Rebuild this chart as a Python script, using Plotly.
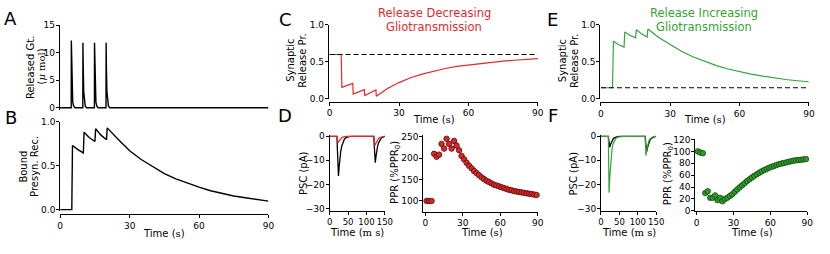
import plotly.graph_objects as go

W, H = 830, 254

# ---------------- data ----------------
# A: released glutamate (uM) vs time (s)
gt_time = [0, 4.95, 5.0, 5.15, 5.35, 5.6, 6.0, 6.6,
           9.95, 10.0, 10.15, 10.35, 10.6, 11.0, 11.6,
           14.95, 15.0, 15.15, 15.35, 15.6, 16.0, 16.6,
           19.95, 20.0, 20.15, 20.35, 20.6, 21.0, 21.6, 90]
gt_val = [0, 0, 12.2, 7.0, 3.0, 1.0, 0.3, 0,
          0, 11.8, 6.8, 2.9, 1.0, 0.3, 0,
          0, 11.8, 6.8, 2.9, 1.0, 0.3, 0,
          0, 11.8, 6.8, 2.9, 1.0, 0.3, 0, 0]

# B: bound presynaptic receptors
bound_time = [0, 5.0, 5.3, 7.5, 10.0, 10.3, 12.5, 15.0, 15.3, 17.5, 20.0, 20.3,
              25, 30, 35, 40, 45, 50, 55, 60, 65, 70, 75, 80, 85, 90]
bound_val = [0, 0, 0.73, 0.685, 0.645, 0.88, 0.82, 0.775, 0.92, 0.85, 0.795, 0.93,
             0.80, 0.67, 0.57, 0.485, 0.41, 0.35, 0.30, 0.255, 0.215, 0.185, 0.155, 0.135, 0.115, 0.097]

# C: synaptic release probability, release-decreasing gliotransmission
relC_time = [0, 5.0, 5.3, 7.5, 10.0, 10.2, 12.5, 15.0, 15.2, 17.5, 20.0, 20.2,
             25, 30, 35, 40, 45, 50, 55, 60, 65, 70, 75, 80, 85, 90]
relC_val = [0.6, 0.6, 0.155, 0.185, 0.21, 0.065, 0.097, 0.125, 0.045, 0.085, 0.12, 0.035,
            0.14, 0.22, 0.285, 0.335, 0.375, 0.41, 0.44, 0.46, 0.478, 0.495, 0.51, 0.522, 0.533, 0.543]
baseC_time = [0, 90]
baseC_val = [0.6, 0.6]

# E: synaptic release probability, release-increasing gliotransmission
relE_time = [0, 5.0, 5.4, 7.5, 10.0, 10.3, 12.5, 15.0, 15.3, 17.5, 20.0, 20.3,
             25, 30, 35, 40, 45, 50, 55, 60, 65, 70, 75, 80, 85, 90]
relE_val = [0.15, 0.15, 0.78, 0.735, 0.70, 0.905, 0.86, 0.825, 0.935, 0.88, 0.835, 0.945,
            0.83, 0.73, 0.64, 0.566, 0.504, 0.45, 0.404, 0.366, 0.334, 0.306, 0.282, 0.262, 0.245, 0.231]
baseE_time = [0, 90]
baseE_val = [0.15, 0.15]

# D / F: PSC traces (pA) vs time (ms)
psc_time = [0, 20, 21, 22, 23, 24, 26, 28, 30, 33, 36, 40, 45, 52, 60,
            120, 121, 122, 123, 124, 126, 128, 130, 133, 136, 140, 145, 150]
pscD_ctrl = [0, 0, -5, -12, -16, -16.5, -12.5, -9, -6.5, -4, -2.4, -1.2, -0.5, -0.1, 0,
             0, -3.5, -8, -10.7, -11, -8.3, -6, -4.3, -2.7, -1.6, -0.8, -0.3, 0]
pscD_glio = [0, 0, -1.2, -2.2, -2.5, -2.4, -1.9, -1.4, -1.0, -0.6, -0.35, -0.15, -0.05, 0, 0,
             0, -1.6, -3.2, -3.7, -3.6, -2.8, -2.1, -1.5, -0.9, -0.5, -0.25, -0.1, 0]
pscF_ctrl = [0, 0, -1.4, -3.3, -4.4, -4.5, -3.4, -2.5, -1.8, -1.1, -0.65, -0.3, -0.1, 0, 0,
             0, -2.0, -4.7, -6.3, -6.5, -4.9, -3.6, -2.6, -1.6, -0.95, -0.5, -0.2, 0]
pscF_glio = [0, 0, -12, -23.5, -21, -17, -11.5, -7.8, -5.3, -3.1, -1.8, -0.9, -0.35, -0.05, 0,
             0, -4.5, -8, -7.2, -5.9, -4, -2.8, -1.9, -1.1, -0.6, -0.3, -0.1, 0]

# D / F: paired-pulse ratio (% of PPR0) vs time (s)
ppr_time = [1, 3, 5, 7, 9, 11, 13, 15, 17, 19, 21, 23, 25, 27, 29, 31, 33, 35, 37, 39,
            41, 43, 45, 47, 49, 51, 53, 55, 57, 59, 61, 63, 65, 67, 69, 71, 73, 75, 77, 79,
            81, 83, 85, 87, 89]
pprD_val = [100, 100, 100, 210, 203, 208, 233, 222, 245, 233, 222, 240, 229, 218, 205, 197, 189, 182, 176, 170,
            165, 160, 155, 151, 147, 144, 141, 138, 136, 134, 132, 130, 128, 126, 125, 123, 122, 121, 120, 119,
            118, 117, 116, 115, 114]
pprF_val = [100, 98, 97, 30, 33, 22, 22, 26, 18, 22, 16, 20, 22, 25, 28, 32, 36, 39.5, 43, 46.5,
            50, 53, 56, 59, 61.5, 64, 66.5, 68.5, 70.5, 72.5, 74, 75.5, 77, 78.5, 79.5, 80.5, 81.5, 82.5, 83.5, 84.5,
            85, 85.5, 86, 86.5, 87]

# tick labels
time_ticks = [0, 30, 60, 90]
gt_ticks = [0, 5, 10, 15]
prob_ticks = [0.0, 0.5, 1.0]
psc_yticks = [-30, -20, -10, 0]
psc_xticks = [0, 50, 100, 150]
pprD_ticks = [100, 150, 200, 250]
pprF_ticks = [0, 20, 40, 60, 80, 100, 120]

RED = "#e3292b"
GREEN = "#35a335"
FONT = "DejaVu Sans"

# ---------------- layout helpers ----------------
def dom_from(rng, va, pa, vb, pb):
    k = (pb - pa) / (vb - va)
    return pa + (rng[0] - va) * k, pa + (rng[1] - va) * k

def xdom(rng, va, pa, vb, pb):
    p0, p1 = dom_from(rng, va, pa, vb, pb)
    return [min(p0, p1) / W, max(p0, p1) / W]

def ydom(rng, va, pa, vb, pb):
    p0, p1 = dom_from(rng, va, pa, vb, pb)
    a, b = 1 - p0 / H, 1 - p1 / H
    return [min(a, b), max(a, b)]

def ax(**kw):
    d = dict(showline=True, linecolor="black", linewidth=1, ticks="outside", ticklen=3,
             tickwidth=1, tickcolor="black", showgrid=False, zeroline=False, tickangle=0,
             tickfont=dict(family=FONT, size=9, color="black"), fixedrange=True)
    d.update(kw)
    return d

def yax(**kw):
    return ax(ticklabelstandoff=-1, **kw)

fig = go.Figure()

def line(x, y, xa, ya, color, width=1.4, dash=None):
    fig.add_trace(go.Scatter(x=x, y=y, xaxis=xa, yaxis=ya, mode="lines",
                             line=dict(color=color, width=width, dash=dash),
                             hoverinfo="skip", showlegend=False))

def dots(x, y, xa, ya, fill, edge):
    fig.add_trace(go.Scatter(x=x, y=y, xaxis=xa, yaxis=ya, mode="markers",
                             marker=dict(size=5.5, color=fill, line=dict(color=edge, width=0.8)),
                             cliponaxis=False, hoverinfo="skip", showlegend=False))

# A
line(gt_time, gt_val, "x", "y", "black", 1.4)
# B
line(bound_time, bound_val, "x2", "y2", "black", 1.4)
# C
line(relC_time, relC_val, "x3", "y3", RED, 1.2)
line(baseC_time, baseC_val, "x3", "y3", "black", 1.2, "5px,3px")
# D
line(psc_time, pscD_ctrl, "x4", "y4", "black", 1.3)
line(psc_time, pscD_glio, "x4", "y4", RED, 1.2)
dots(ppr_time, pprD_val, "x5", "y5", "#d42a2a", "#5a0a0a")
# E
line(relE_time, relE_val, "x6", "y6", GREEN, 1.2)
line(baseE_time, baseE_val, "x6", "y6", "black", 1.2, "5px,3px")
# F
line(psc_time, pscF_ctrl, "x7", "y7", "black", 1.3)
line(psc_time, pscF_glio, "x7", "y7", GREEN, 1.2)
dots(ppr_time, pprF_val, "x8", "y8", "#2e9a2e", "#0e4a0e")

rA_y = [-0.35, 15]
rB_y = [-0.02, 1]
rT = [0, 90]
rC_x = [-0.3, 90]
rP_y = [0, 1]
rPSC_x = [0, 150]
rPSC_y = [-31, 0.6]
rD5_x = [-1.6, 90]
rD5_y = [75, 254]
rF8_x = [-1.1, 90]
rF8_y = [-0.5, 121]

fig.update_layout(
    width=W, height=H, margin=dict(l=0, r=0, t=0, b=0),
    paper_bgcolor="white", plot_bgcolor="white", showlegend=False,
    font=dict(family=FONT, color="black"),
    # A
    xaxis=dict(domain=xdom(rT, 0, 57.5, 90, 269), range=rT, visible=False, fixedrange=True),
    yaxis=yax(domain=ydom(rA_y, 0, 107, 15, 21), range=rA_y, tickvals=gt_ticks, anchor="x"),
    # B
    xaxis2=ax(domain=xdom(rT, 0, 58, 90, 269), range=rT, tickvals=time_ticks,
              anchor="free", position=1 - 218 / H),
    yaxis2=yax(domain=ydom(rB_y, 0, 213, 1, 121.5), range=rB_y, tickvals=prob_ticks,
               tickformat=".1f", anchor="x2"),
    # C
    xaxis3=ax(domain=xdom(rC_x, 0, 331, 90, 542), range=rC_x, tickvals=time_ticks,
              anchor="free", position=1 - 100.5 / H),
    yaxis3=yax(domain=ydom(rP_y, 0, 97.7, 1, 20.7), range=rP_y, tickvals=prob_ticks,
               tickformat=".1f", anchor="x3"),
    # D PSC
    xaxis4=ax(domain=xdom(rPSC_x, 0, 331, 150, 387), range=rPSC_x, tickvals=psc_xticks, anchor="y4",
              tickfont=dict(family=FONT, size=8.5, color="black")),
    yaxis4=yax(domain=ydom(rPSC_y, 0, 136.7, -30, 211.7), range=rPSC_y, tickvals=psc_yticks, anchor="x4"),
    # D PPR
    xaxis5=ax(domain=xdom(rD5_x, 0, 428, 90, 542), range=rD5_x, tickvals=time_ticks, anchor="y5"),
    yaxis5=yax(domain=ydom(rD5_y, 100, 204, 250, 137), range=rD5_y, tickvals=pprD_ticks, anchor="x5"),
    # E
    xaxis6=ax(domain=xdom(rC_x, 0, 606, 90, 816.7), range=rC_x, tickvals=time_ticks,
              anchor="free", position=1 - 100.7 / H),
    yaxis6=yax(domain=ydom(rP_y, 0, 97.7, 1, 20.7), range=rP_y, tickvals=prob_ticks,
               tickformat=".1f", anchor="x6"),
    # F PSC
    xaxis7=ax(domain=xdom(rPSC_x, 0, 606, 150, 662), range=rPSC_x, tickvals=psc_xticks, anchor="y7",
              tickfont=dict(family=FONT, size=8.5, color="black")),
    yaxis7=yax(domain=ydom(rPSC_y, 0, 136.7, -30, 211.7), range=rPSC_y, tickvals=psc_yticks, anchor="x7"),
    # F PPR
    xaxis8=ax(domain=xdom(rF8_x, 0, 703, 90, 815), range=rF8_x, tickvals=time_ticks, anchor="y8"),
    yaxis8=yax(domain=ydom(rF8_y, 0, 214.3, 120, 140), range=rF8_y, tickvals=pprF_ticks, anchor="x8"),
)

def note(text, px, py, size=10, color="black", angle=0):
    fig.add_annotation(text=text, x=px / W, y=1 - py / H, xref="paper", yref="paper",
                       showarrow=False, xanchor="center", yanchor="middle", textangle=angle,
                       font=dict(family=FONT, size=size, color=color))

S = '<span style="font-family:DejaVu Serif">'
# panel letters
for lab, px, py in [("A", 8, 14), ("B", 8, 117), ("C", 286, 15), ("D", 286, 115),
                    ("E", 557, 15), ("F", 557, 115)]:
    note(lab, px, py, size=18)

# titles
note("Release Decreasing", 437, 8, 11.5, RED)
note("Gliotransmission", 437, 23, 11.5, RED)
note("Release Increasing", 710, 8, 11.5, GREEN)
note("Gliotransmission", 710, 23, 11.5, GREEN)

# x titles
note("Time (" + S + "s</span>)", 163.5, 238)
note("Time (" + S + "s</span>)", 437, 119)
note("Time (" + S + "s</span>)", 711, 119)
note("Time (" + S + "m s</span>)", 359, 236.5)
note("Time (" + S + "s</span>)", 485, 236.5)
note("Time (" + S + "m s</span>)", 634, 236.5)
note("Time (" + S + "s</span>)", 759, 236.5)

# y titles
note("Released Gt.", 28, 65, angle=-90)
note("(" + S + "<i>μ</i> mol</span>)", 38.5, 64, angle=-90)
note("Bound", 20.5, 168, angle=-90)
note("Presyn. Rec.", 32, 168, angle=-90)
note("Synaptic", 292, 58, angle=-90)
note("Release Pr.", 304, 58, angle=-90)
note("Synaptic", 567, 58, angle=-90)
note("Release Pr.", 579, 58, angle=-90)
note("PSC (pA)", 304, 175, angle=-90)
note("PPR (%PPR<sub>0</sub>)", 397, 174, angle=-90)
note("PSC (pA)", 578, 175, angle=-90)
note("PPR (%PPR<sub>0</sub>)", 674, 176, angle=-90)

fig.write_html("out.html", config={"displayModeBar": False},
               post_script="document.body.style.margin='0px';document.body.style.padding='0px';")
